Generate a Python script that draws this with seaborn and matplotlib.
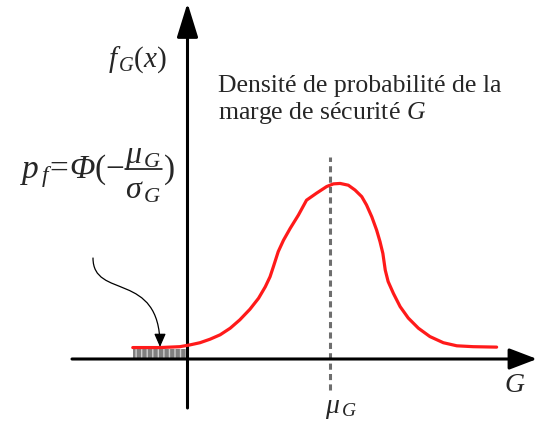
import numpy as np
import matplotlib.pyplot as plt
import seaborn as sns
from matplotlib.path import Path
from matplotlib.patches import FancyArrowPatch

sns.set_theme(style="white")
plt.rcParams['font.family'] = ['Liberation Serif', 'DejaVu Serif']
plt.rcParams['mathtext.fontset'] = 'custom'
plt.rcParams['mathtext.rm'] = 'Liberation Serif'
plt.rcParams['mathtext.it'] = 'Liberation Serif:italic'
plt.rcParams['mathtext.cal'] = 'Liberation Serif:italic'
plt.rcParams['hatch.linewidth'] = 1.0

# density of the safety margin G
g_values = [-1.14, -0.57, -0.16, 0.05, 0.26, 0.47, 0.68, 0.89, 1.09, 1.30, 1.48,
            1.62, 1.72, 1.79, 1.89, 2.00, 2.14, 2.31, 2.48, 2.69, 2.90, 3.04, 3.18,
            3.35, 3.49, 3.63, 3.73, 3.84, 3.94, 4.01, 4.07, 4.12, 4.18, 4.29, 4.43,
            4.60, 4.81, 5.05, 5.33, 5.61, 5.95, 6.44]
f_values = [0.026, 0.026, 0.028, 0.032, 0.037, 0.045, 0.055, 0.070, 0.089, 0.113,
            0.138, 0.164, 0.187, 0.210, 0.244, 0.270, 0.297, 0.327, 0.361, 0.377,
            0.392, 0.398, 0.399, 0.395, 0.384, 0.369, 0.350, 0.323, 0.293, 0.267,
            0.240, 0.202, 0.176, 0.149, 0.119, 0.093, 0.070, 0.051, 0.037, 0.030,
            0.028, 0.027]
mu_g = 2.97
pf_region = [-1.14, 0.0]
pf_height = 0.023

# picture pixel -> data units
X0, Y0, SX, SY = 187.5, 359, 48, 440


def px(x, y):
    return ((x - X0) / SX, (Y0 - y) / SY)


fig = plt.figure(figsize=(5.37, 4.25), dpi=100)
ax = fig.add_axes([0, 0, 1, 1])
ax.set_xlim(px(0, 0)[0], px(537, 0)[0])
ax.set_ylim(px(0, 425)[1], px(0, 0)[1])
ax.axis('off')

# failure probability area
ax.fill_between(pf_region, 0, pf_height, facecolor='#808080', edgecolor='#cfcfcf',
                hatch='|||', linewidth=0, zorder=2)

sns.lineplot(x=g_values, y=f_values, sort=False, estimator=None, color='#ff1a1a',
             lw=2.3, ax=ax, zorder=4)

# axes with arrows
ax.annotate('', xy=px(537, Y0), xytext=px(72, Y0),
            arrowprops=dict(arrowstyle='-|>,head_length=1.7,head_width=0.65', mutation_scale=10,
                            lw=2.2, color='black', shrinkA=0, shrinkB=0), zorder=3)
ax.annotate('', xy=px(X0, 3), xytext=px(X0, 408),
            arrowprops=dict(arrowstyle='-|>,head_length=2.1,head_width=0.65', mutation_scale=10,
                            lw=2.2, color='black', shrinkA=0, shrinkB=0), zorder=3)

ax.vlines(mu_g, px(0, 390)[1], px(0, 157)[1], colors='#6e6e6e', lw=2.2,
          linestyles=(0, (2, 1.4)), zorder=1)

# curved pointer to the shaded area
verts = [px(93, 258), px(93, 300), px(160, 270), px(160, 347)]
path = Path(verts, [Path.MOVETO, Path.CURVE4, Path.CURVE4, Path.CURVE4])
ax.add_patch(FancyArrowPatch(path=path, arrowstyle='-|>,head_length=0.8,head_width=0.35',
                             mutation_scale=10, lw=0.9, color='black', zorder=5))

ax.text(*px(108, 67), r'$f_{\,G}(x)$', fontsize=21, ha='left', va='baseline')
ax.text(*px(218, 92), 'Densité de probabilité de la', fontsize=18.5, ha='left', va='baseline')
ax.text(*px(218, 119), 'marge de sécurité $G$', fontsize=18.5, ha='left', va='baseline')

# p_f = Phi(-mu_G / sigma_G), built in pieces
ax.text(*px(20, 178), r'$p_{\,f}\!=\!\mathcal{Φ}(-$', fontsize=24, ha='left', va='baseline')
ax.text(*px(143, 163), r'$\mu_{\,G}$', fontsize=23, ha='center', va='baseline')
ax.plot(*zip(px(125, 168.5), px(162, 168.5)), color='black', lw=1.1)
ax.text(*px(143, 198), r'$\sigma_{\,G}$', fontsize=23, ha='center', va='baseline')
ax.text(*px(163, 178), r'$)$', fontsize=24, ha='left', va='baseline')

ax.text(*px(504, 392), r'$G$', fontsize=20, ha='left', va='baseline')
ax.text(*px(325, 413), r'$\mu_{\,G}$', fontsize=20, ha='left', va='baseline')

fig.savefig('out.png', dpi=100)
